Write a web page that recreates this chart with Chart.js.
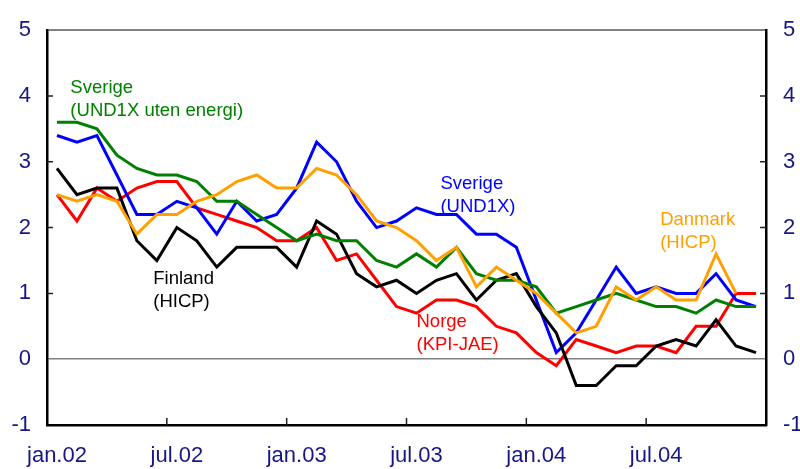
<!DOCTYPE html>
<html lang="no">
<head>
<meta charset="UTF-8">
<title>Kjerneinflasjon i nabolandene</title>
<script src="https://cdn.jsdelivr.net/npm/chart.js@4"></script>
<style>
  body { margin: 0; background: #fff; }
  canvas { display: block; }
</style>
</head>
<body>
<canvas id="inflChart" width="800" height="469"></canvas>
<script>
// months jan.02 - des.04
const monthNames = ['jan', 'feb', 'mar', 'apr', 'mai', 'jun', 'jul', 'aug', 'sep', 'okt', 'nov', 'des'];
const years = ['02', '03', '04'];
const months = [];
years.forEach(y => monthNames.forEach(m => months.push(m + '.' + y)));

const yTickValues = [-1, 0, 1, 2, 3, 4, 5];

// values (pct)
const sverigeUnd1x = [3.4, 3.3, 3.4, 2.8, 2.2, 2.2, 2.4, 2.3, 1.9, 2.4, 2.1, 2.2,
                      2.6, 3.3, 3.0, 2.4, 2.0, 2.1, 2.3, 2.2, 2.2, 1.9, 1.9, 1.7,
                      0.9, 0.1, 0.4, 0.9, 1.4, 1.0, 1.1, 1.0, 1.0, 1.3, 0.9, 0.8];
const sverigeUtenEnergi = [3.6, 3.6, 3.5, 3.1, 2.9, 2.8, 2.8, 2.7, 2.4, 2.4, 2.2, 2.0,
                           1.8, 1.9, 1.8, 1.8, 1.5, 1.4, 1.6, 1.4, 1.7, 1.3, 1.2, 1.2,
                           1.1, 0.7, 0.8, 0.9, 1.0, 0.9, 0.8, 0.8, 0.7, 0.9, 0.8, 0.8];
const danmarkHicp = [2.5, 2.4, 2.5, 2.4, 1.9, 2.2, 2.2, 2.4, 2.5, 2.7, 2.8, 2.6,
                     2.6, 2.9, 2.8, 2.5, 2.1, 2.0, 1.8, 1.5, 1.7, 1.1, 1.4, 1.2,
                     1.0, 0.7, 0.4, 0.5, 1.1, 0.9, 1.1, 0.9, 0.9, 1.6, 1.0, null];
const finlandHicp = [2.9, 2.5, 2.6, 2.6, 1.8, 1.5, 2.0, 1.8, 1.4, 1.7, 1.7, 1.7,
                     1.4, 2.1, 1.9, 1.3, 1.1, 1.2, 1.0, 1.2, 1.3, 0.9, 1.2, 1.3,
                     0.8, 0.4, -0.4, -0.4, -0.1, -0.1, 0.2, 0.3, 0.2, 0.6, 0.2, 0.1];
const norgeKpiJae = [2.5, 2.1, 2.6, 2.4, 2.6, 2.7, 2.7, 2.3, 2.2, 2.1, 2.0, 1.8,
                     1.8, 2.0, 1.5, 1.6, 1.2, 0.8, 0.7, 0.9, 0.9, 0.8, 0.5, 0.4,
                     0.1, -0.1, 0.3, 0.2, 0.1, 0.2, 0.2, 0.1, 0.5, 0.5, 1.0, 1.0];

// text labels, anchored in data coordinates (month index, value)
const labels = [
    { lines: ['Sverige', '(UND1X uten energi)'], at: [0.67, 4.12], color: '#008000' },
    { lines: ['Sverige', '(UND1X)'], at: [19.2, 2.67], color: '#0000ff' },
    { lines: ['Danmark', '(HICP)'], at: [30.2, 2.11], color: '#ffa000' },
    { lines: ['Finland', '(HICP)'], at: [4.82, 1.22], color: '#000000' },
    { lines: ['Norge', '(KPI-JAE)'], at: [18.0, 0.56], color: '#ff0000' }
];

const tickColor = '#16168a';
const fontFamily = '"Liberation Sans", Arial, sans-serif';

// inward tick marks + line labels
const extras = {
    id: 'extras',
    afterDraw(chart) {
        const { ctx, chartArea: a, scales: { x, y } } = chart;
        ctx.save();
        ctx.strokeStyle = '#222';
        ctx.lineWidth = 1.5;
        ctx.beginPath();
        [1, 2, 3, 4].forEach(v => {
            const py = y.getPixelForValue(v);
            ctx.moveTo(a.left, py); ctx.lineTo(a.left + 6, py);
            ctx.moveTo(a.right, py); ctx.lineTo(a.right - 6, py);
        });
        for (let i = 6; i < months.length; i += 6) {
            const px = (x.getPixelForValue(i - 1) + x.getPixelForValue(i)) / 2;
            ctx.moveTo(px, a.bottom); ctx.lineTo(px, a.bottom - 7);
        }
        ctx.stroke();

        ctx.font = '18.5px ' + fontFamily;
        ctx.textAlign = 'left';
        ctx.textBaseline = 'middle';
        labels.forEach(l => {
            const px = x.getPixelForValue(l.at[0]);
            const py = y.getPixelForValue(l.at[1]);
            ctx.fillStyle = l.color;
            l.lines.forEach((t, k) => ctx.fillText(t, px, py + k * 23));
        });
        ctx.restore();
    }
};

function line(data, color) {
    return {
        data: data,
        borderColor: color,
        borderWidth: 3,
        pointRadius: 0,
        tension: 0,
        fill: false,
        yAxisID: 'y'
    };
}

const tickFont = { family: fontFamily, size: 22 };

new Chart(document.getElementById('inflChart'), {
    type: 'line',
    data: {
        labels: months,
        datasets: [
            line(danmarkHicp, '#ffa000'),
            line(sverigeUtenEnergi, '#008000'),
            line(finlandHicp, '#000000'),
            line(sverigeUnd1x, '#0000ff'),
            line(norgeKpiJae, '#ff0000')
        ]
    },
    options: {
        responsive: false,
        animation: false,
        devicePixelRatio: 1,
        layout: { padding: { top: 20, left: 0, right: 0, bottom: 0 } },
        plugins: { legend: { display: false }, tooltip: { enabled: false } },
        scales: {
            x: {
                offset: true,
                grid: { display: false, drawTicks: false },
                border: { display: true, color: '#000', width: 2.5 },
                ticks: {
                    autoSkip: false,
                    maxRotation: 0,
                    padding: 18,
                    color: tickColor,
                    font: tickFont,
                    callback: function (value, index) {
                        return index % 6 === 0 ? this.getLabelForValue(value) : '';
                    }
                },
                afterFit: s => { s.height = 44; }
            },
            y: {
                position: 'left',
                min: -1, max: 5,
                afterBuildTicks: s => { s.ticks = yTickValues.map(v => ({ value: v })); },
                grid: {
                    drawTicks: false,
                    color: c => (c.tick && (c.tick.value === 0 || c.tick.value === 5)) ? '#808080' : 'rgba(0,0,0,0)',
                    lineWidth: c => (c.tick && c.tick.value === 5) ? 2 : 1.5
                },
                border: { display: true, color: '#000', width: 2.5 },
                ticks: { padding: 16, color: tickColor, font: tickFont },
                afterFit: s => { s.width = 47; }
            },
            y2: {
                position: 'right',
                min: -1, max: 5,
                afterBuildTicks: s => { s.ticks = yTickValues.map(v => ({ value: v })); },
                grid: { display: false, drawTicks: false },
                border: { display: true, color: '#000', width: 2.5 },
                ticks: { padding: 17, color: tickColor, font: tickFont },
                afterFit: s => { s.width = 34; }
            }
        }
    },
    plugins: [extras]
});
</script>
</body>
</html>
